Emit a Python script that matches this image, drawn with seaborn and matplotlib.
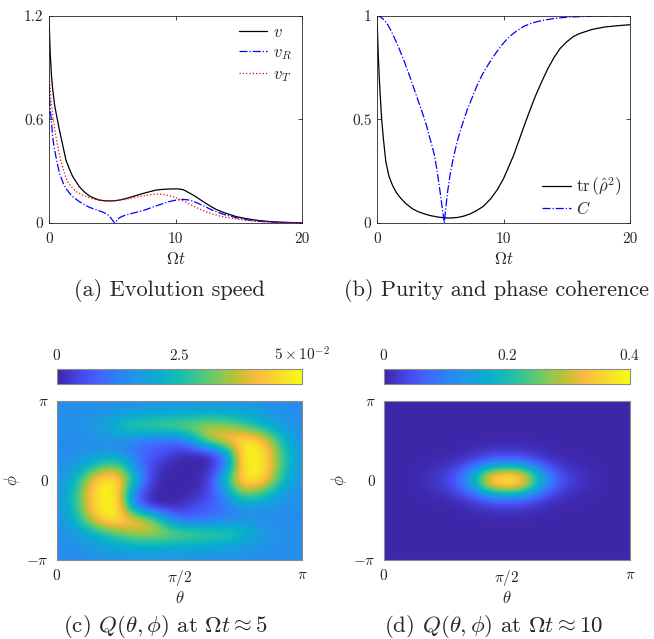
import numpy as np
import pandas as pd
import matplotlib
matplotlib.use("Agg")
import matplotlib.pyplot as plt
from matplotlib.colors import LinearSegmentedColormap
import seaborn as sns

# %%
# (a) evolution speed
t_v = [0, 0.05, 0.1, 0.2, 0.3, 0.45, 0.66, 0.82, 1.0, 1.34, 1.6, 1.87, 2.4, 2.8, 3.19, 3.6,
       3.98, 4.4, 4.77, 5.2, 5.56, 6.1, 6.6, 7.1, 7.67, 8.1, 8.46, 9.0, 9.5, 10.0, 10.3, 10.6,
       10.8, 11.2, 11.6, 12.0, 12.4, 12.8, 13.2, 13.6, 14.0, 14.8, 15.6, 16.5, 17.5, 18.5, 20]
v = [1.2, 1.08, 0.98, 0.85, 0.77, 0.68, 0.6, 0.54, 0.48, 0.365, 0.315, 0.27, 0.21, 0.18,
     0.157, 0.143, 0.133, 0.129, 0.128, 0.129, 0.133, 0.142, 0.153, 0.164, 0.176, 0.184,
     0.191, 0.195, 0.197, 0.198, 0.197, 0.193, 0.186, 0.17, 0.153, 0.133, 0.114, 0.096,
     0.079, 0.067, 0.056, 0.037, 0.025, 0.015, 0.008, 0.004, 0.001]

t_r = [0, 0.05, 0.1, 0.2, 0.29, 0.4, 0.6, 0.82, 1.13, 1.34, 1.6, 1.87, 2.1, 2.4, 2.8, 3.19,
       3.6, 3.98, 4.3, 4.5, 4.7, 4.9, 5.05, 5.2, 5.35, 5.56, 5.9, 6.35, 6.9, 7.4, 7.9, 8.46,
       9.0, 9.5, 10.0, 10.6, 11.1, 11.5, 11.9, 12.4, 12.9, 13.4, 14.0, 15.0, 16.0, 17.0, 18.0, 20]
v_r = [0.8, 0.72, 0.66, 0.58, 0.5, 0.44, 0.365, 0.29, 0.23, 0.2, 0.175, 0.153, 0.14, 0.124,
       0.106, 0.091, 0.08, 0.07, 0.062, 0.054, 0.045, 0.028, 0.013, 0.0, 0.014, 0.03, 0.042,
       0.052, 0.062, 0.071, 0.084, 0.099, 0.112, 0.124, 0.132, 0.137, 0.133, 0.123, 0.11,
       0.093, 0.075, 0.06, 0.046, 0.027, 0.015, 0.008, 0.004, 0.0]

t_t = [0, 0.05, 0.1, 0.2, 0.34, 0.5, 0.7, 0.92, 1.13, 1.34, 1.6, 1.87, 2.2, 2.66, 3.05, 3.45,
       3.85, 4.24, 4.6, 5.03, 5.5, 6.1, 6.6, 7.14, 7.7, 8.2, 8.7, 9.1, 9.5, 9.9, 10.3, 10.7,
       11.1, 11.5, 11.9, 12.4, 12.9, 13.4, 14.0, 15.0, 16.0, 17.0, 18.0, 20]
v_t = [0.9, 0.83, 0.77, 0.68, 0.6, 0.52, 0.44, 0.365, 0.31, 0.26, 0.225, 0.2, 0.18, 0.162,
       0.15, 0.139, 0.133, 0.129, 0.127, 0.128, 0.132, 0.137, 0.145, 0.153, 0.16, 0.166,
       0.168, 0.165, 0.158, 0.15, 0.139, 0.125, 0.11, 0.095, 0.081, 0.066, 0.052, 0.042,
       0.033, 0.021, 0.012, 0.007, 0.004, 0.001]

# (b) purity and phase coherence
t_p = [0, 0.05, 0.1, 0.18, 0.27, 0.37, 0.5, 0.7, 0.95, 1.24, 1.55, 1.9, 2.3, 2.8, 3.2, 3.7,
       4.2, 4.8, 5.3, 5.8, 6.4, 6.9, 7.4, 7.9, 8.4, 9.0, 9.5, 10.0, 10.4, 10.8, 11.2, 11.6,
       12.0, 12.5, 13.0, 13.5, 14.0, 14.5, 15.0, 15.5, 16.0, 17.0, 18.0, 19.0, 20]
purity = [1.0, 0.9, 0.81, 0.7, 0.6, 0.5, 0.41, 0.295, 0.225, 0.18, 0.145, 0.118, 0.093,
          0.069, 0.056, 0.045, 0.036, 0.029, 0.025, 0.024, 0.027, 0.034, 0.045, 0.061, 0.08,
          0.118, 0.16, 0.214, 0.27, 0.327, 0.395, 0.464, 0.53, 0.61, 0.68, 0.745, 0.8, 0.845,
          0.875, 0.9, 0.915, 0.935, 0.947, 0.953, 0.958]

t_c = [0, 0.3, 0.58, 0.85, 1.1, 1.35, 1.63, 1.9, 2.16, 2.43, 2.7, 2.95, 3.2, 3.47, 3.74, 3.94,
       4.13, 4.33, 4.53, 4.73, 4.92, 5.1, 5.32, 5.45, 5.58, 5.77, 5.97, 6.17, 6.37, 6.63, 6.9,
       7.15, 7.42, 7.68, 7.95, 8.35, 8.74, 9.1, 9.5, 9.9, 10.3, 10.7, 11.1, 11.6, 12.2, 13.0,
       14.0, 15.0, 16.0, 18.0, 20]
coherence = [1.0, 0.995, 0.98, 0.958, 0.93, 0.898, 0.86, 0.82, 0.78, 0.735, 0.69, 0.645, 0.6,
             0.553, 0.505, 0.465, 0.42, 0.378, 0.33, 0.26, 0.18, 0.1, 0.0, 0.08, 0.15, 0.23,
             0.295, 0.35, 0.4, 0.455, 0.505, 0.55, 0.59, 0.63, 0.67, 0.72, 0.76, 0.795, 0.83,
             0.862, 0.89, 0.912, 0.93, 0.95, 0.965, 0.978, 0.988, 0.994, 0.997, 1.0, 1.0]

# (c) Q(theta, phi) at Omega t ~ 5, in units of 1e-2
# rows: phi from pi (top) down to -pi in steps of pi/6, cols: theta 0..pi in steps of pi/16
q_c = [
    [1.45, 1.45, 1.45, 1.45, 1.5, 1.5, 1.5, 1.55, 1.55, 1.55, 1.55, 1.55, 1.5, 1.5, 1.45, 1.4, 1.4],
    [1.5, 1.5, 1.5, 1.55, 1.65, 1.75, 1.85, 1.9, 1.95, 2.0, 2.05, 2.05, 1.95, 1.8, 1.6, 1.5, 1.45],
    [1.5, 1.5, 1.6, 1.9, 2.6, 3.0, 3.2, 3.3, 3.4, 3.6, 3.7, 3.5, 3.1, 2.5, 2.0, 1.6, 1.45],
    [1.45, 1.45, 1.45, 1.45, 1.4, 1.2, 0.95, 0.85, 0.95, 2.2, 3.9, 4.4, 4.7, 4.7, 3.4, 2.0, 1.5],
    [1.45, 1.45, 1.5, 1.6, 1.6, 1.1, 0.8, 0.6, 0.1, 0.0, 0.05, 1.3, 4.8, 5.0, 4.0, 2.3, 1.6],
    [1.5, 1.6, 2.2, 3.1, 3.3, 1.6, 0.5, 0.05, 0.0, 0.0, 0.1, 1.0, 4.6, 5.0, 4.0, 2.3, 1.6],
    [1.55, 2.0, 3.7, 4.9, 4.7, 2.6, 0.4, 0.0, 0.0, 0.0, 0.4, 2.6, 4.7, 4.9, 3.7, 2.0, 1.55],
    [1.6, 2.3, 4.0, 5.0, 4.6, 1.0, 0.1, 0.0, 0.0, 0.05, 0.5, 1.6, 3.3, 3.1, 2.2, 1.6, 1.5],
    [1.6, 2.3, 4.0, 5.0, 4.8, 1.3, 0.05, 0.0, 0.1, 0.6, 0.8, 1.1, 1.6, 1.6, 1.5, 1.45, 1.45],
    [1.5, 2.0, 3.4, 4.7, 4.7, 4.4, 3.9, 2.2, 0.95, 0.85, 0.95, 1.2, 1.4, 1.45, 1.45, 1.45, 1.45],
    [1.45, 1.6, 2.0, 2.5, 3.1, 3.5, 3.7, 3.6, 3.4, 3.3, 3.2, 3.0, 2.6, 1.9, 1.6, 1.5, 1.5],
    [1.45, 1.5, 1.6, 1.8, 1.95, 2.05, 2.05, 2.0, 1.95, 1.9, 1.85, 1.75, 1.65, 1.55, 1.5, 1.5, 1.5],
    [1.4, 1.4, 1.45, 1.5, 1.5, 1.55, 1.55, 1.55, 1.55, 1.55, 1.5, 1.5, 1.5, 1.45, 1.45, 1.45, 1.45],
]

# (d) Q(theta, phi) at Omega t ~ 10: a single blob, read as two profiles (fraction of peak)
q_d_peak = 0.38
theta_profile = [0, 0, 0.01, 0.035, 0.08, 0.19, 0.5, 0.92, 1.0, 0.92, 0.5, 0.19, 0.08, 0.035,
                 0.01, 0, 0]
phi_profile = [0, 0, 0, 0, 0, 0, 0.012, 0.035, 0.09, 0.22, 0.5, 0.88, 1.0, 0.88, 0.5, 0.22,
               0.09, 0.035, 0.012, 0, 0, 0, 0, 0, 0]

# %%
parula = LinearSegmentedColormap.from_list("parula", [
    (0.00, (0.2422, 0.1504, 0.6603)),
    (0.10, (0.2788, 0.2860, 0.9280)),
    (0.17, (0.2586, 0.3935, 0.9953)),
    (0.25, (0.1707, 0.5110, 0.9620)),
    (0.33, (0.1185, 0.6000, 0.8900)),
    (0.42, (0.0300, 0.6800, 0.8100)),
    (0.50, (0.0900, 0.7400, 0.7000)),
    (0.58, (0.2600, 0.7800, 0.5400)),
    (0.66, (0.5000, 0.7900, 0.3500)),
    (0.74, (0.7600, 0.7500, 0.2000)),
    (0.82, (0.9900, 0.7300, 0.2500)),
    (0.90, (0.9700, 0.8500, 0.1800)),
    (1.00, (0.9769, 0.9839, 0.0805)),
])

sns.set_style("ticks")
plt.rcParams["font.family"] = "serif"
plt.rcParams["font.serif"] = ["cmr10", "DejaVu Serif"]
plt.rcParams["mathtext.fontset"] = "cm"
plt.rcParams["axes.unicode_minus"] = False

W, H = 654, 639
fig = plt.figure(figsize=(W / 100, H / 100), dpi=100)


def box(x0, y0, x1, y1):
    return [x0 / W, 1 - y1 / H, (x1 - x0) / W, (y1 - y0) / H]


def style_line_axes(ax):
    for s in ax.spines.values():
        s.set_color("#262626")
        s.set_linewidth(0.6)
    ax.tick_params(direction="in", top=True, right=True, length=3, width=0.6,
                   color="#262626", labelsize=11, pad=7)
    ax.set_xlim(0, 20)
    ax.set_xticks([0, 10, 20])
    ax.set_xlabel(r"$\Omega t$", fontsize=12, labelpad=3)
    ax.set_ylabel("")


# %%
ax_a = fig.add_axes(box(49, 16, 302, 223))
sns.lineplot(x=t_v, y=v, ax=ax_a, color="k", lw=0.9, label=r"$v$")
sns.lineplot(x=t_r, y=v_r, ax=ax_a, color="b", lw=0.9, linestyle="-.", label=r"$v_R$")
sns.lineplot(x=t_t, y=v_t, ax=ax_a, color="r", lw=0.9, linestyle=":", label=r"$v_T$")
style_line_axes(ax_a)
ax_a.tick_params(axis="y", pad=4)
ax_a.set_ylim(0, 1.2)
ax_a.set_yticks([0, 0.6, 1.2])
ax_a.set_yticklabels(["0", "0.6", "1.2"])
ax_a.legend(frameon=False, loc="upper right", bbox_to_anchor=(0.96, 0.96), fontsize=12,
            handlelength=1.7, handletextpad=0.35, labelspacing=0.3, borderaxespad=0,
            borderpad=0)

ax_b = fig.add_axes(box(377, 16, 630, 223))
sns.lineplot(x=t_p, y=purity, ax=ax_b, color="k", lw=0.9,
             label=r"$\mathrm{tr}\,\left(\hat{\rho}^2\right)$")
sns.lineplot(x=t_c, y=coherence, ax=ax_b, color="b", lw=0.9, linestyle="-.", label=r"$C$")
style_line_axes(ax_b)
ax_b.tick_params(axis="y", pad=4)
ax_b.set_ylim(0, 1)
ax_b.set_yticks([0, 0.5, 1])
ax_b.set_yticklabels(["0", "0.5", "1"])
ax_b.legend(frameon=False, loc="lower right", bbox_to_anchor=(0.968, 0.03), fontsize=12,
            handlelength=1.7, handletextpad=0.35, labelspacing=0.1, borderaxespad=0,
            borderpad=0)

# %%
def heat_panel(rect, cbar_rect, grid, vmax, cticks, clabels):
    ax = fig.add_axes(box(*rect))
    arr = np.array(grid)
    nr, nc = arr.shape
    dth = np.pi / (nc - 1)
    dph = 2 * np.pi / (nr - 1)
    im = ax.imshow(arr, cmap=parula, vmin=0, vmax=vmax, aspect="auto", origin="upper",
                   interpolation="bicubic",
                   extent=[-dth / 2, np.pi + dth / 2, -np.pi - dph / 2, np.pi + dph / 2])
    ax.set_xlim(0, np.pi)
    ax.set_ylim(-np.pi, np.pi)
    ax.set_xticks([0, np.pi / 2, np.pi])
    ax.set_xticklabels([r"$0$", r"$\pi/2$", r"$\pi$"])
    ax.set_yticks([-np.pi, 0, np.pi])
    ax.set_yticklabels([r"$-\pi$", r"$0$", r"$\pi$"])
    ax.tick_params(length=0, labelsize=11, pad=6)
    ax.set_xlabel(r"$\theta$", fontsize=12, labelpad=1)
    ax.set_ylabel(r"$\phi$", fontsize=12, labelpad=3)
    for s in ax.spines.values():
        s.set_color("#8c8c8c")
        s.set_linewidth(0.8)
    cax = fig.add_axes(box(*cbar_rect))
    cb = fig.colorbar(im, cax=cax, orientation="horizontal", ticklocation="top")
    cb.set_ticks(cticks)
    cb.set_ticklabels(clabels)
    cb.outline.set_edgecolor("#8c8c8c")
    cb.outline.set_linewidth(0.8)
    cax.tick_params(direction="in", length=2, width=0.6, color="#262626", labelsize=11, pad=4)
    return ax


q_c_vals = np.array(q_c) * 1e-2
heat_panel((57, 401, 302, 560), (57, 369, 302, 384), q_c_vals, 0.05,
           [0, 0.025, 0.05], [r"$0$", r"$2.5$", r"$5\times10^{-2}$"])

q_d = q_d_peak * np.outer(phi_profile, theta_profile)
heat_panel((384, 401, 630, 560), (384, 369, 630, 384), q_d, 0.4,
           [0, 0.2, 0.4], [r"$0$", r"$0.2$", r"$0.4$"])

# %%
fig.text(169 / W, 1 - 291 / H, "(a) Evolution speed", ha="center", va="center", fontsize=16)
fig.text(497 / W, 1 - 291 / H, "(b) Purity and phase coherence", ha="center", va="center",
         fontsize=16)
fig.text(165 / W, 1 - 626 / H, r"(c) $Q(\theta,\phi)$ at $\Omega t\approx 5$", ha="center",
         va="center", fontsize=16.5)
fig.text(494 / W, 1 - 626 / H, r"(d) $Q(\theta,\phi)$ at $\Omega t\approx 10$", ha="center",
         va="center", fontsize=16.5)

fig.savefig("out.png", dpi=100)
